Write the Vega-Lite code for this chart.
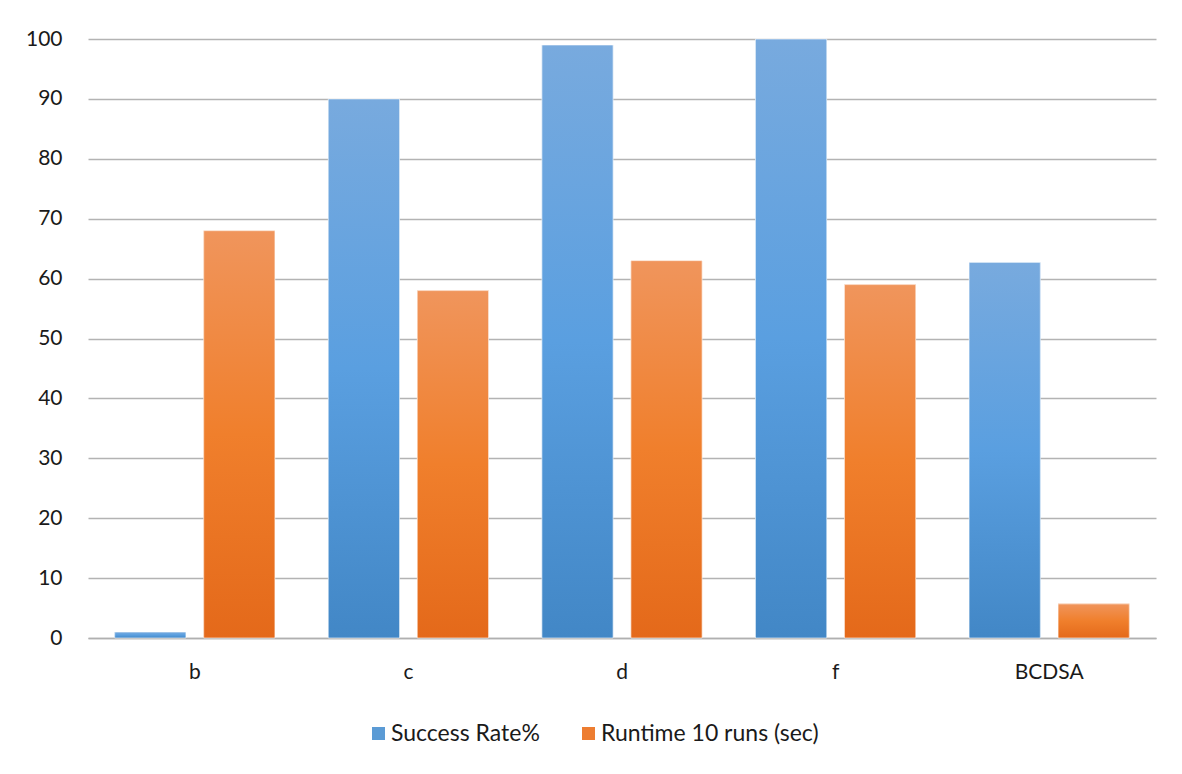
{
  "$schema": "https://vega.github.io/schema/vega-lite/v6.json",
  "width": 1068,
  "height": 599,
  "autosize": {"type": "none"},
  "padding": {"left": 88, "top": 39, "right": 26, "bottom": 136},
  "background": "white",
  "config": {
    "view": {"stroke": null},
    "font": "Lato",
    "axis": {"labelFont": "Lato", "labelColor": "#1a1a1a", "labelFontSize": 21}
  },
  "data": {
    "values": [
      {"cat": "b", "series": "Success Rate%", "value": 1.0},
      {"cat": "b", "series": "Runtime 10 runs (sec)", "value": 68},
      {"cat": "c", "series": "Success Rate%", "value": 90},
      {"cat": "c", "series": "Runtime 10 runs (sec)", "value": 58},
      {"cat": "d", "series": "Success Rate%", "value": 99},
      {"cat": "d", "series": "Runtime 10 runs (sec)", "value": 63},
      {"cat": "f", "series": "Success Rate%", "value": 100},
      {"cat": "f", "series": "Runtime 10 runs (sec)", "value": 59},
      {"cat": "BCDSA", "series": "Success Rate%", "value": 62.7},
      {"cat": "BCDSA", "series": "Runtime 10 runs (sec)", "value": 5.7}
    ]
  },
  "encoding": {
    "x": {
      "field": "cat", "type": "nominal", "sort": ["b", "c", "d", "f", "BCDSA"],
      "scale": {"paddingInner": 0.25, "paddingOuter": 0.125},
      "axis": {"title": null, "labelAngle": 0, "ticks": false, "domain": true, "domainColor": "#b0b0b0", "domainWidth": 1.5, "labelPadding": 23}
    },
    "xOffset": {
      "field": "series", "type": "nominal",
      "scale": {"domain": ["Success Rate%", "Runtime 10 runs (sec)"], "paddingInner": 0.2, "paddingOuter": 0}
    },
    "y": {
      "field": "value", "type": "quantitative",
      "scale": {"domain": [0, 100], "nice": false},
      "axis": {"title": null, "values": [0,10,20,30,40,50,60,70,80,90,100], "ticks": false, "domain": false, "gridColor": "#b3b3b3", "gridWidth": 1.5, "labelPadding": 26}
    }
  },
  "layer": [
    {
      "mark": {"type": "bar"},
      "encoding": {
        "color": {
          "field": "series", "type": "nominal",
          "scale": {"domain": ["Success Rate%", "Runtime 10 runs (sec)"], "range": ["#5b9bd5", "#ed7d31"]},
          "legend": {
            "title": null, "orient": "none", "legendX": 279, "legendY": 683,
            "direction": "horizontal", "gridAlign": "none", "columnPadding": 37,
            "symbolType": "square", "symbolSize": 169, "symbolStrokeWidth": 0,
            "labelFont": "Lato", "labelFontSize": 23, "labelColor": "#1a1a1a", "labelOffset": 1, "labelLimit": 0
          }
        }
      }
    },
    {
      "transform": [{"filter": "datum.series === 'Success Rate%'"}],
      "mark": {"type": "bar", "stroke": "#ffffff", "strokeOpacity": 0.6, "strokeWidth": 1,
        "color": {"gradient": "linear", "x1": 0, "y1": 0, "x2": 0, "y2": 1, "stops": [{"offset": 0, "color": "#78aade"}, {"offset": 0.5, "color": "#5a9fe0"}, {"offset": 1, "color": "#4287c6"}]}}
    },
    {
      "transform": [{"filter": "datum.series === 'Runtime 10 runs (sec)'"}],
      "mark": {"type": "bar", "stroke": "#ffffff", "strokeOpacity": 0.6, "strokeWidth": 1,
        "color": {"gradient": "linear", "x1": 0, "y1": 0, "x2": 0, "y2": 1, "stops": [{"offset": 0, "color": "#f0955c"}, {"offset": 0.5, "color": "#f07f2c"}, {"offset": 1, "color": "#e4691a"}]}}
    }
  ]
}
